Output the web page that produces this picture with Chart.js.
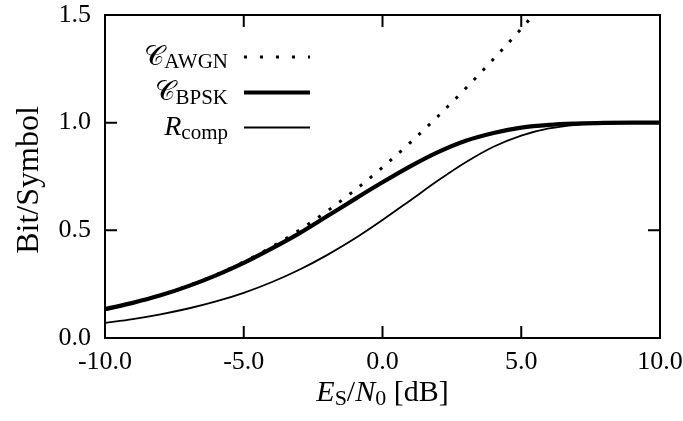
<!DOCTYPE html>
<html>
<head>
<meta charset="utf-8">
<script src="https://cdn.jsdelivr.net/npm/chart.js@4.4.0/dist/chart.umd.min.js"></script>
<style>
  html, body { margin: 0; padding: 0; background: #fff; }
  #chart { display: block; }
</style>
</head>
<body>
<canvas id="chart" width="683" height="421"></canvas>
<script>
// Es/N0 grid in dB
const snrDb = [-10, -9, -8, -7, -6, -5, -4, -3, -2, -1, 0, 1, 2, 3, 4, 5, 6, 7, 8, 9, 10];

// bit per symbol for each curve
const capAwgn = [0.1315, 0.1620, 0.1986, 0.2423, 0.2937, 0.3536, 0.4225, 0.5009, 0.5888, 0.6861,
                 0.7925, 0.9074, 1.0300, 1.1596, 1.2953, 1.4364, 1.5819, 1.7313, 1.8838, 2.0389, 2.1962];
const capBpsk = [0.134, 0.163, 0.198, 0.241, 0.291, 0.349, 0.415, 0.486, 0.565, 0.645,
                 0.723, 0.797, 0.863, 0.916, 0.952, 0.977, 0.990, 0.996, 0.999, 1.000, 1.000];
const rComp   = [0.070, 0.088, 0.110, 0.137, 0.170, 0.210, 0.259, 0.317, 0.385, 0.462,
                 0.548, 0.639, 0.731, 0.816, 0.888, 0.940, 0.973, 0.990, 0.997, 0.999, 1.000];

const xTicks = [-10, -5, 0, 5, 10];
const yTicks = [0, 0.5, 1.0, 1.5];

const SERIF = '"Liberation Serif", "DejaVu Serif", serif';
const SCRIPT_C = '\u{1D49E}';

function toPoints(ys) {
    return snrDb.map((x, i) => ({ x: x, y: ys[i] }));
}

const legendRows = [
    { main: SCRIPT_C, italic: false, sub: 'AWGN', width: 3, dash: [3, 13], y: 57 },
    { main: SCRIPT_C, italic: false, sub: 'BPSK', width: 4, dash: [], y: 92.5 },
    { main: 'R', italic: true, sub: 'comp', width: 1.8, dash: [], y: 127.5 }
];

// inward ticks on all four sides plus the box around the plot
const framePlugin = {
    id: 'frame',
    afterDatasetsDraw(chart) {
        const ctx = chart.ctx;
        const a = chart.chartArea;
        const xs = chart.scales.x, ys = chart.scales.y;
        const len = 12;
        ctx.save();
        ctx.strokeStyle = '#000';
        ctx.lineWidth = 2;
        ctx.beginPath();
        xTicks.forEach(v => {
            const px = xs.getPixelForValue(v);
            ctx.moveTo(px, a.bottom); ctx.lineTo(px, a.bottom - len);
            ctx.moveTo(px, a.top); ctx.lineTo(px, a.top + len);
        });
        yTicks.forEach(v => {
            const py = ys.getPixelForValue(v);
            ctx.moveTo(a.left, py); ctx.lineTo(a.left + len, py);
            ctx.moveTo(a.right, py); ctx.lineTo(a.right - len, py);
        });
        ctx.stroke();
        ctx.strokeRect(a.left, a.top, a.right - a.left, a.bottom - a.top);
        ctx.restore();
    }
};

// draws "main" with a lowered subscript
function drawSubbed(ctx, x, base, main, mainFont, sub, subFont, drop) {
    ctx.font = mainFont;
    ctx.fillText(main, x, base);
    const w = ctx.measureText(main).width;
    ctx.font = subFont;
    ctx.fillText(sub, x + w, base + drop);
}

function measureSubbed(ctx, main, mainFont, sub, subFont) {
    ctx.font = mainFont;
    const w = ctx.measureText(main).width;
    ctx.font = subFont;
    return w + ctx.measureText(sub).width;
}

const labelsPlugin = {
    id: 'labels',
    afterDraw(chart) {
        const ctx = chart.ctx;
        const a = chart.chartArea;
        ctx.save();
        ctx.fillStyle = '#000';
        ctx.strokeStyle = '#000';
        ctx.textBaseline = 'alphabetic';
        ctx.textAlign = 'left';

        // key in the upper left corner
        const textRight = 228, lineFrom = 244, lineTo = 310;
        legendRows.forEach(r => {
            const mainFont = (r.italic ? 'italic ' : '') + '28px ' + SERIF;
            const subFont = '21px ' + SERIF;
            const w = measureSubbed(ctx, r.main, mainFont, r.sub, subFont);
            drawSubbed(ctx, textRight - w, r.y + 7.5, r.main, mainFont, r.sub, subFont, 3.5);
            ctx.lineWidth = r.width;
            ctx.lineCap = 'butt';
            ctx.setLineDash(r.dash);
            ctx.beginPath();
            ctx.moveTo(lineFrom, r.y);
            ctx.lineTo(lineTo, r.y);
            ctx.stroke();
        });
        ctx.setLineDash([]);

        // x axis title: E_S/N_0 [dB]
        const big = 30, small = 22;
        const parts = [
            { t: 'E', f: 'italic ' + big + 'px ' + SERIF, dy: 0 },
            { t: 'S', f: small + 'px ' + SERIF, dy: 4 },
            { t: '/', f: big + 'px ' + SERIF, dy: 0 },
            { t: 'N', f: 'italic ' + big + 'px ' + SERIF, dy: 0 },
            { t: '0', f: small + 'px ' + SERIF, dy: 4 },
            { t: ' [dB]', f: big + 'px ' + SERIF, dy: 0 }
        ];
        let total = 0;
        parts.forEach(p => { ctx.font = p.f; p.w = ctx.measureText(p.t).width; total += p.w; });
        let x = (a.left + a.right) / 2 - total / 2;
        const base = 401;
        parts.forEach(p => {
            ctx.font = p.f;
            ctx.fillText(p.t, x, base + p.dy);
            x += p.w;
        });

        // y axis title
        ctx.translate(38, 180);
        ctx.rotate(-Math.PI / 2);
        ctx.textAlign = 'center';
        ctx.font = '32px ' + SERIF;
        ctx.fillText('Bit/Symbol', 0, 0);
        ctx.restore();
    }
};

const ctx = document.getElementById('chart').getContext('2d');
const chart = new Chart(ctx, {
    type: 'line',
    data: {
        datasets: [
            {
                label: 'C_AWGN',
                data: toPoints(capAwgn),
                borderColor: '#000',
                borderWidth: 3,
                borderDash: [3, 10],
                borderCapStyle: 'butt',
                order: 3
            },
            {
                label: 'C_BPSK',
                data: toPoints(capBpsk),
                borderColor: '#000',
                borderWidth: 4.2,
                order: 1
            },
            {
                label: 'R_comp',
                data: toPoints(rComp),
                borderColor: '#000',
                borderWidth: 1.8,
                order: 2
            }
        ]
    },
    options: {
        responsive: false,
        animation: false,
        devicePixelRatio: 1,
        events: [],
        layout: { padding: { top: 15, right: 23, bottom: 0, left: 0 } },
        elements: {
            point: { radius: 0 },
            line: { cubicInterpolationMode: 'monotone', fill: false }
        },
        plugins: {
            legend: { display: false },
            tooltip: { enabled: false }
        },
        scales: {
            x: {
                type: 'linear',
                min: -10,
                max: 10,
                grid: { display: false, drawTicks: false },
                border: { display: false },
                afterBuildTicks: s => { s.ticks = xTicks.map(v => ({ value: v })); },
                afterFit: s => { s.height = 83; s.paddingLeft = 0; s.paddingRight = 0; },
                ticks: {
                    color: '#000',
                    padding: 9,
                    maxRotation: 0,
                    font: { family: SERIF, size: 26 },
                    callback: v => v.toFixed(1)
                }
            },
            y: {
                type: 'linear',
                min: 0,
                max: 1.5,
                grid: { display: false, drawTicks: false },
                border: { display: false },
                afterBuildTicks: s => { s.ticks = yTicks.map(v => ({ value: v })); },
                afterFit: s => { s.width = 105; s.paddingTop = 0; s.paddingBottom = 0; },
                ticks: {
                    color: '#000',
                    padding: 14,
                    font: { family: SERIF, size: 26 },
                    callback: v => v.toFixed(1)
                }
            }
        }
    },
    plugins: [framePlugin, labelsPlugin]
});
</script>
</body>
</html>
